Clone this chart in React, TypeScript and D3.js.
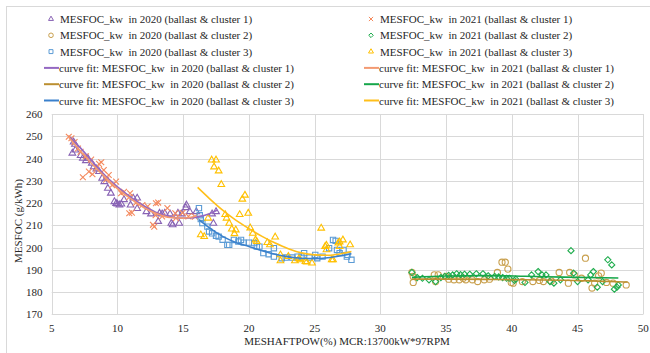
import React from 'react';
import * as d3 from 'd3';

const width = 650;
const height = 353;

// scatter data [MESHAFTPOW %, MESFOC g/kWh]
const fc2020c1 = [
  [6.57, 242.4], [6.67, 247.4], [6.77, 246.4], [6.8, 243.8], [7.2, 241.3], [7.37, 240.1], [7.6, 239.0],
  [7.75, 240.1], [8.05, 237.9], [8.2, 236.3], [8.4, 235.3], [8.6, 234.1], [8.84, 231.1], [9.0, 229.6],
  [9.27, 226.6], [9.5, 224.4], [9.77, 220.6], [9.9, 219.8], [10.0, 219.5], [10.15, 219.1], [10.3, 219.5],
  [10.5, 221.5], [11.0, 219.1], [11.2, 222.2], [11.5, 222.2], [11.5, 217.5], [12.2, 216.1], [12.55, 215.1],
  [13.1, 211.7], [13.2, 215.4], [13.4, 215.1], [13.6, 215.4], [14.0, 215.1], [14.1, 210.9], [14.2, 210.2],
  [14.6, 215.4], [14.7, 210.9], [14.9, 215.1], [15.2, 217.9], [15.25, 219.1], [15.5, 216.1], [16.0, 216.1],
  [17.2, 215.1], [17.3, 210.9], [17.5, 216.1],
];
const fc2021c1 = [
  [6.3, 249.8], [6.5, 249.1], [6.74, 247.4], [7.0, 244.5], [7.2, 243.0], [7.37, 231.6], [7.6, 241.0],
  [7.83, 234.1], [8.0, 239.5], [8.1, 232.9], [8.4, 235.6], [8.6, 237.6], [8.77, 238.3], [8.96, 234.8],
  [9.14, 230.5], [9.34, 232.6], [9.6, 228.0], [9.9, 229.6], [10.28, 224.4], [10.5, 225.0], [10.9, 222.6],
  [10.96, 224.4], [11.1, 215.7], [10.9, 215.4], [11.4, 220.0], [11.9, 219.1], [12.3, 218.5], [12.7, 210.2],
  [12.8, 209.4], [12.9, 214.5], [12.93, 219.9], [13.1, 220.2], [13.4, 214.0], [13.8, 217.7], [14.4, 215.4],
  [14.45, 213.2], [14.95, 215.6], [15.4, 214.0], [15.9, 213.9],
];
const fc2020c2 = [
  [32.4, 188.8], [32.5, 187.0], [32.5, 184.3], [34.1, 187.7], [34.4, 187.7], [34.2, 184.7], [35.0, 187.0],
  [35.2, 185.8], [35.6, 185.5], [36.0, 185.5], [36.3, 186.2], [36.5, 185.5], [37.0, 185.5], [37.4, 184.7],
  [37.9, 185.5], [38.3, 185.8], [38.9, 188.8], [39.25, 193.4], [39.5, 193.4], [39.7, 190.3], [39.95, 184.3],
  [40.1, 184.0], [40.8, 184.7], [41.6, 184.7], [42.1, 185.2], [42.4, 184.7], [43.0, 185.0], [43.6, 188.8],
  [44.3, 184.0], [44.4, 188.8], [44.75, 187.7], [45.3, 186.2], [45.6, 195.2], [46.1, 181.8], [46.3, 184.0],
  [46.6, 187.3], [46.8, 188.5], [47.2, 184.3], [47.7, 184.0], [48.7, 183.2],
];
const fc2021c2 = [
  [32.4, 188.8], [32.8, 186.5], [33.2, 186.2], [33.7, 185.5], [34.2, 184.7], [34.6, 186.5], [34.9, 187.0],
  [35.2, 187.5], [35.5, 187.7], [35.8, 188.2], [36.1, 187.8], [36.4, 188.0], [36.8, 188.0], [37.3, 188.2],
  [37.8, 188.2], [38.2, 187.3], [38.7, 187.0], [39.0, 186.8], [39.3, 186.5], [39.6, 186.2], [39.8, 186.2],
  [40.2, 185.2], [40.3, 185.8], [41.0, 184.3], [41.5, 187.7], [42.0, 189.2], [42.3, 187.7], [42.6, 187.7],
  [42.9, 184.7], [43.2, 184.0], [43.7, 185.5], [44.5, 198.6], [44.7, 188.5], [45.0, 184.7], [45.8, 185.5],
  [46.0, 187.7], [46.2, 189.2], [46.5, 182.2], [46.9, 184.7], [47.3, 194.5], [47.6, 192.2], [47.8, 181.3],
  [48.0, 182.2], [48.1, 183.2],
];
const fc2020c3 = [
  [16.2, 217.7], [16.26, 214.5], [16.34, 212.8], [16.46, 211.0], [16.84, 209.4], [16.97, 207.2], [17.2, 206.4],
  [17.5, 205.3], [17.7, 204.9], [18.0, 203.5], [18.36, 201.2], [18.5, 201.2], [18.86, 203.4], [19.2, 202.7],
  [19.4, 203.4], [19.6, 202.2], [20.0, 202.2], [20.4, 202.0], [20.6, 200.4], [20.8, 200.4], [21.1, 197.5],
  [21.5, 197.0], [21.9, 199.7], [21.9, 195.9], [22.5, 195.2], [22.8, 195.5], [23.3, 195.5], [23.7, 195.9],
  [24.0, 195.9], [24.2, 197.5], [24.6, 195.5], [25.05, 196.7], [25.2, 195.2], [25.6, 195.9], [26.1, 199.7],
  [26.4, 203.4], [26.6, 203.0], [26.7, 198.9], [26.9, 197.5], [27.2, 198.9], [27.45, 195.9], [27.5, 196.7],
  [27.8, 194.5],
];
const fc2021c3 = [
  [16.34, 205.7], [16.6, 204.9], [16.9, 213.2], [17.17, 239.3], [17.5, 239.3], [17.35, 236.2], [17.7, 234.4],
  [17.9, 228.3], [18.2, 214.8], [18.3, 213.2], [18.5, 210.9], [18.7, 208.3], [18.9, 206.2], [19.0, 207.9],
  [19.3, 214.8], [19.5, 221.7], [19.7, 223.5], [19.95, 215.4], [20.1, 208.8], [20.3, 206.4], [20.5, 203.4],
  [20.6, 202.7], [21.4, 202.2], [21.6, 201.2], [22.0, 204.7], [22.4, 196.7], [22.4, 194.0], [23.0, 196.0],
  [23.5, 194.0], [23.8, 195.0], [23.9, 194.5], [24.3, 193.7], [24.4, 193.5], [24.8, 193.0], [25.5, 208.7],
  [25.8, 200.5], [25.9, 199.0], [25.9, 201.0], [26.3, 194.5], [26.4, 194.5], [26.8, 202.0], [26.9, 200.4],
  [26.9, 202.5], [27.15, 203.4], [27.7, 201.2],
];

// curve fits
const fit2020c1 = [
  [6.4, 249.5], [6.6, 248.3], [7.3, 244.0], [8.1, 238.6], [9.4, 230.4], [10.6, 224.4], [11.9, 219.1],
  [12.9, 215.9], [14.0, 213.8], [14.7, 213.2], [15.5, 213.3], [16.2, 213.9], [17.0, 215.2], [17.6, 216.9],
];
const fit2021c1 = [
  [6.3, 249.5], [7.0, 244.5], [8.0, 238.0], [9.0, 232.0], [10.0, 226.5], [11.0, 222.0], [12.0, 218.0],
  [13.0, 215.2], [14.0, 213.5], [15.0, 213.2], [16.0, 214.2],
];
const fit2020c2 = [[32.4, 185.8], [35, 185.8], [38, 185.7], [41, 185.5], [44, 185.3], [46, 185.0], [48.8, 184.5]];
const fit2021c2 = [[32.4, 186.6], [35, 187.2], [38, 187.4], [41, 187.1], [44, 186.7], [48.1, 186.3]];
const fit2020c3 = [
  [16.2, 212.5], [17, 208.8], [18, 205.0], [19, 202.3], [20, 200.5], [21, 198.6], [22, 197.0],
  [23, 195.8], [24, 195.2], [25, 195.0], [26, 195.4], [27, 196.3], [27.8, 197.2],
];
const fit2021c3 = [
  [16.1, 227.0], [17, 222.0], [18, 216.8], [19, 212.3], [20, 208.5], [21, 205.0], [22, 202.0],
  [22.5, 200.7], [23, 199.5], [24, 197.6], [25, 196.7], [26, 196.5], [27, 197.2], [27.8, 198.2],
];

const xTicks = [5, 10, 15, 20, 25, 30, 35, 40, 45, 50];
const yTicks = [170, 180, 190, 200, 210, 220, 230, 240, 250, 260];

const scatters = [
  {name: 'MESFOC_kw  in 2020 (ballast & cluster 1)', data: fc2020c1, color: '#8862b4', shape: d3.symbolTriangle2, size: 32},
  {name: 'MESFOC_kw  in 2021 (ballast & cluster 1)', data: fc2021c1, color: '#f4885c', shape: d3.symbolX, size: 24},
  {name: 'MESFOC_kw  in 2020 (ballast & cluster 2)', data: fc2020c2, color: '#c9a04e', shape: d3.symbolCircle, size: 30},
  {name: 'MESFOC_kw  in 2021 (ballast & cluster 2)', data: fc2021c2, color: '#20ad4e', shape: d3.symbolDiamond2, size: 24},
  {name: 'MESFOC_kw  in 2020 (ballast & cluster 3)', data: fc2020c3, color: '#5b9bd5', shape: d3.symbolSquare2, size: 36},
  {name: 'MESFOC_kw  in 2021 (ballast & cluster 3)', data: fc2021c3, color: '#ffc000', shape: d3.symbolTriangle2, size: 32},
];
const fits = [
  {name: 'curve fit: MESFOC_kw  in 2020 (ballast & cluster 1)', data: fit2020c1, color: '#9468c2'},
  {name: 'curve fit: MESFOC_kw  in 2021 (ballast & cluster 1)', data: fit2021c1, color: '#f39a72'},
  {name: 'curve fit: MESFOC_kw  in 2020 (ballast & cluster 2)', data: fit2020c2, color: '#bb8f30'},
  {name: 'curve fit: MESFOC_kw  in 2021 (ballast & cluster 2)', data: fit2021c2, color: '#16a64a'},
  {name: 'curve fit: MESFOC_kw  in 2020 (ballast & cluster 3)', data: fit2020c3, color: '#3a80cc'},
  {name: 'curve fit: MESFOC_kw  in 2021 (ballast & cluster 3)', data: fit2021c3, color: '#ffbf1a'},
];

const font = "'Liberation Serif', 'Times New Roman', Times, serif";
const txt = {fontFamily: font, whiteSpace: 'pre' as const};
const ink = '#262626';

export default function App() {
  const x = d3.scaleLinear().domain([5, 50]).range([51.7, 643.3]);
  const y = d3.scaleLinear().domain([170, 260]).range([314.3, 114]);

  const line = d3.line<number[]>()
    .x(d => x(d[0]))
    .y(d => y(d[1]))
    .curve(d3.curveMonotoneX);

  // legend: left column 2020, right column 2021
  const legendItems = [
    ...scatters.map((s, i) => ({...s, kind: 'marker', i})),
    ...fits.map((f, i) => ({...f, kind: 'line', i: i + 6})),
  ];

  return (
    <svg width={width} height={height} style={{position: 'absolute', left: 0, top: 0}}>
      <rect x={0} y={0} width={width} height={height} fill="#fff" />
      <rect x={6.5} y={6.5} width={width} height={height} fill="none" stroke="#d9d9d9" />

      {/* grid */}
      {yTicks.map(t => (
        <line key={'gy' + t} x1={x(5)} x2={x(50)} y1={Math.round(y(t)) + 0.5} y2={Math.round(y(t)) + 0.5}
              stroke="#d9d9d9" />
      ))}
      {xTicks.map(t => (
        <line key={'gx' + t} x1={Math.round(x(t)) + 0.5} x2={Math.round(x(t)) + 0.5} y1={y(260)} y2={y(170)}
              stroke="#d9d9d9" />
      ))}

      {/* tick labels */}
      {yTicks.map(t => (
        <text key={'ty' + t} x={42.5} y={y(t) + 4} fontSize={11} textAnchor="end" fill={ink} style={txt}>{t}</text>
      ))}
      {xTicks.map(t => (
        <text key={'tx' + t} x={x(t)} y={332} fontSize={11} textAnchor="middle" fill={ink} style={txt}>{t}</text>
      ))}

      <text x={347} y={345} fontSize={11} textAnchor="middle" fill={ink} style={txt}>MESHAFTPOW(%) MCR:13700kW*97RPM</text>
      <text transform={`translate(22,221) rotate(-90)`} fontSize={11} textAnchor="middle" fill={ink} style={txt}>
        MESFOC (g/kWh)
      </text>

      {/* scatter */}
      {scatters.map((s, si) => {
        const sym = d3.symbol().type(s.shape).size(s.size)();
        return (
          <g key={'s' + si}>
            {s.data.map((d, i) => (
              <path key={i} d={sym as string} transform={`translate(${x(d[0])},${y(d[1])})`}
                    fill="none" stroke={s.color} strokeWidth={1.1} />
            ))}
          </g>
        );
      })}

      {/* curve fits */}
      {fits.map((f, fi) => (
        <path key={'f' + fi} d={line(f.data) as string} fill="none" stroke={f.color} strokeWidth={1.6} />
      ))}

      {/* legend */}
      {legendItems.map((it: any) => {
        const col = it.i % 2;
        const row = Math.floor(it.i / 2);
        const cy = 19 + row * 16.3;
        const tx = col === 0 ? 59 : 379;
        if (it.kind === 'marker') {
          const sym = d3.symbol().type(it.shape).size(it.size * 0.55)();
          return (
            <g key={'l' + it.i}>
              <path d={sym as string} transform={`translate(${tx - 8},${cy})`} fill="none" stroke={it.color} />
              <text x={tx + 1} y={cy + 4} fontSize={11} fill={ink} style={txt}>{it.name}</text>
            </g>
          );
        }
        return (
          <g key={'l' + it.i}>
            <line x1={tx - 15} x2={tx} y1={cy} y2={cy} stroke={it.color} strokeWidth={2} />
            <text x={tx} y={cy + 4} fontSize={11} fill={ink} style={txt}>{it.name}</text>
          </g>
        );
      })}
    </svg>
  );
}
